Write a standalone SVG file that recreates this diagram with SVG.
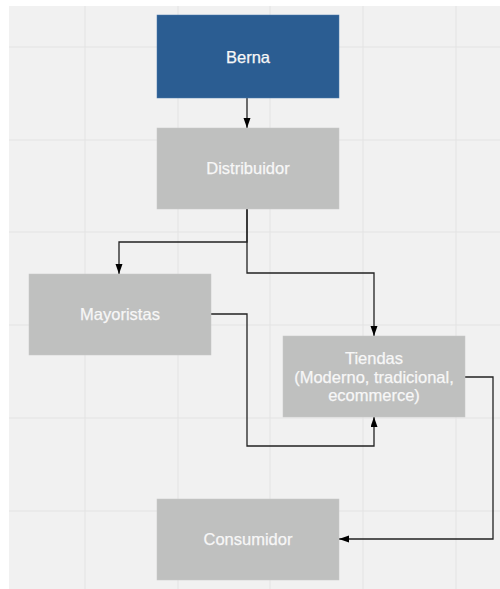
<svg xmlns="http://www.w3.org/2000/svg" width="500" height="589" viewBox="0 0 500 589">
<defs>
<style>
.bg{fill:#f1f1f1}
.grid{stroke:#e3e3e3;stroke-width:1;fill:none}
.box{fill:#bfc0bf;stroke:#c8c8c8;stroke-width:0.5}
.blue{fill:#2b5d92;stroke:#4a78aa;stroke-width:0.5}
.lbl{font-family:"Liberation Sans",Arial,sans-serif;font-size:16.5px;fill:#f7f7f7;text-anchor:middle;stroke:#f7f7f7;stroke-width:0.25}
.edge{fill:none;stroke:#222;stroke-width:1.3}
</style>
<marker id="arr" markerUnits="userSpaceOnUse" markerWidth="11" markerHeight="8" refX="10" refY="3.5" orient="auto">
<path d="M0,0 L10,3.5 L0,7 Z" fill="#000"/>
</marker>
</defs>
<rect x="0" y="0" width="500" height="589" fill="#ffffff"/>
<rect class="bg" x="9" y="6" width="491" height="583"/>
<g class="grid">
<path d="M85,6V589M178,6V589M270,6V589M363,6V589M456,6V589"/>
<path d="M9,47H500M9,140H500M9,232H500M9,325H500M9,418H500M9,511H500"/>
</g>
<g id="connectors">
<path class="edge" d="M247,98V128" marker-end="url(#arr)" stroke="#555"/>
<path class="edge" d="M247,209V242H119V274" marker-end="url(#arr)"/>
<path class="edge" d="M247,209V273H374V336" marker-end="url(#arr)"/>
<path class="edge" d="M211,314H247V446H374V417" marker-end="url(#arr)"/>
<path class="edge" d="M465,377H493V539H339" marker-end="url(#arr)"/>
</g>
<g id="berna">
<rect class="blue" x="157" y="15" width="182" height="83"/>
<text class="lbl" x="248" y="63">Berna</text>
</g>
<g id="distribuidor">
<rect class="box" x="157" y="128" width="182" height="81"/>
<text class="lbl" x="248" y="174">Distribuidor</text>
</g>
<g id="mayoristas">
<rect class="box" x="29" y="274" width="182" height="81"/>
<text class="lbl" x="120" y="320">Mayoristas</text>
</g>
<g id="tiendas">
<rect class="box" x="283" y="336" width="182" height="81"/>
<text class="lbl" x="374" y="364">Tiendas</text>
<text class="lbl" x="374" y="383">(Moderno, tradicional,</text>
<text class="lbl" x="374" y="401">ecommerce)</text>
</g>
<g id="consumidor">
<rect class="box" x="157" y="499" width="182" height="81"/>
<text class="lbl" x="248" y="545">Consumidor</text>
</g>
</svg>
